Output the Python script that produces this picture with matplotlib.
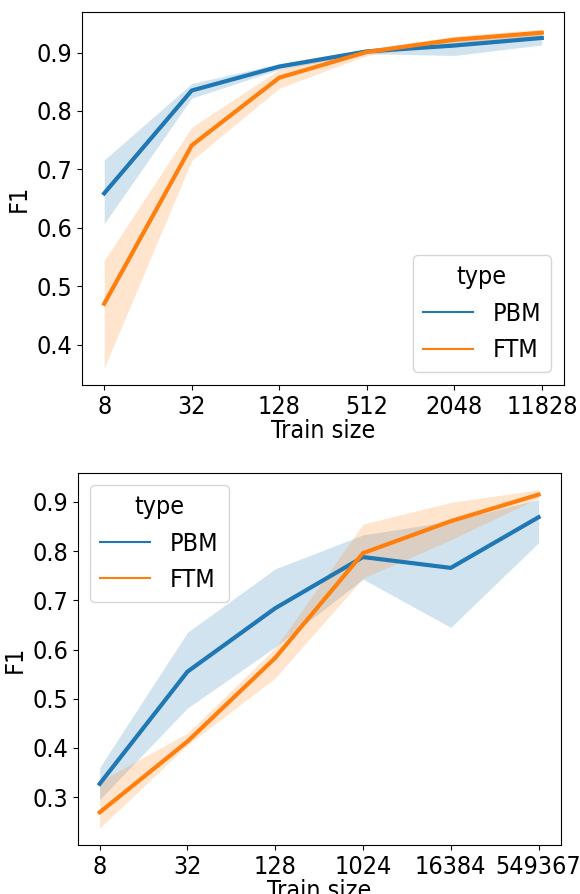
import numpy as np
import matplotlib
matplotlib.use('Agg')
from matplotlib import pyplot as plt
from matplotlib.lines import Line2D

# top panel
sizes_top = ['8', '32', '128', '512', '2048', '11828']
pbm_top = [0.659, 0.835, 0.876, 0.902, 0.912, 0.925]
pbm_top_lo = [0.607, 0.822, 0.871, 0.898, 0.895, 0.913]
pbm_top_hi = [0.716, 0.847, 0.881, 0.906, 0.925, 0.932]
ftm_top = [0.470, 0.741, 0.857, 0.901, 0.922, 0.934]
ftm_top_lo = [0.360, 0.715, 0.839, 0.895, 0.915, 0.927]
ftm_top_hi = [0.544, 0.772, 0.871, 0.905, 0.928, 0.940]

# bottom panel
sizes_bot = ['8', '32', '128', '1024', '16384', '549367']
pbm_bot = [0.327, 0.555, 0.684, 0.788, 0.766, 0.869]
pbm_bot_lo = [0.295, 0.481, 0.605, 0.743, 0.645, 0.817]
pbm_bot_hi = [0.360, 0.635, 0.764, 0.833, 0.861, 0.905]
ftm_bot = [0.269, 0.413, 0.583, 0.796, 0.861, 0.915]
ftm_bot_lo = [0.237, 0.406, 0.542, 0.745, 0.823, 0.908]
ftm_bot_hi = [0.332, 0.430, 0.603, 0.855, 0.899, 0.925]

matplotlib.rcParams['font.stretch'] = 'condensed'

PBM_color = '#1f77b4'
FTM_color = '#ff7f0e'
fs = 18

fig = plt.figure(figsize=(5.8, 8.94), dpi=100)
ax1 = fig.add_axes([0.1419, 0.5694, 0.830, 0.4169])
ax2 = fig.add_axes([0.1340, 0.0548, 0.8324, 0.4164])

panels = [
    (ax1, sizes_top, pbm_top, pbm_top_lo, pbm_top_hi, ftm_top, ftm_top_lo, ftm_top_hi, 'lower right'),
    (ax2, sizes_bot, pbm_bot, pbm_bot_lo, pbm_bot_hi, ftm_bot, ftm_bot_lo, ftm_bot_hi, 'upper left'),
]
for ax, sizes, pbm, pbm_lo, pbm_hi, ftm, ftm_lo, ftm_hi, loc in panels:
    x = np.arange(len(sizes))
    ax.fill_between(x, pbm_lo, pbm_hi, color=PBM_color, alpha=0.2, linewidth=0)
    ax.fill_between(x, ftm_lo, ftm_hi, color=FTM_color, alpha=0.2, linewidth=0)
    ax.plot(x, pbm, color=PBM_color, linewidth=3)
    ax.plot(x, ftm, color=FTM_color, linewidth=3)
    ax.set_xticks(x)
    ax.set_xticklabels(sizes)
    ax.tick_params(labelsize=fs)
    ax.set_xlabel('Train size', fontsize=fs, labelpad=0)
    ax.set_ylabel('F1', fontsize=fs)
    handles = [Line2D([], [], color=PBM_color, linewidth=1.5),
               Line2D([], [], color=FTM_color, linewidth=1.5)]
    ax.legend(handles, ['PBM', 'FTM'], title='type', loc=loc,
              fontsize=fs, title_fontsize=fs)

ax1.set_yticks([0.4, 0.5, 0.6, 0.7, 0.8, 0.9])
ax2.set_yticks([0.3, 0.4, 0.5, 0.6, 0.7, 0.8, 0.9])

plt.savefig('out.png', dpi=100)
plt.close('all')
